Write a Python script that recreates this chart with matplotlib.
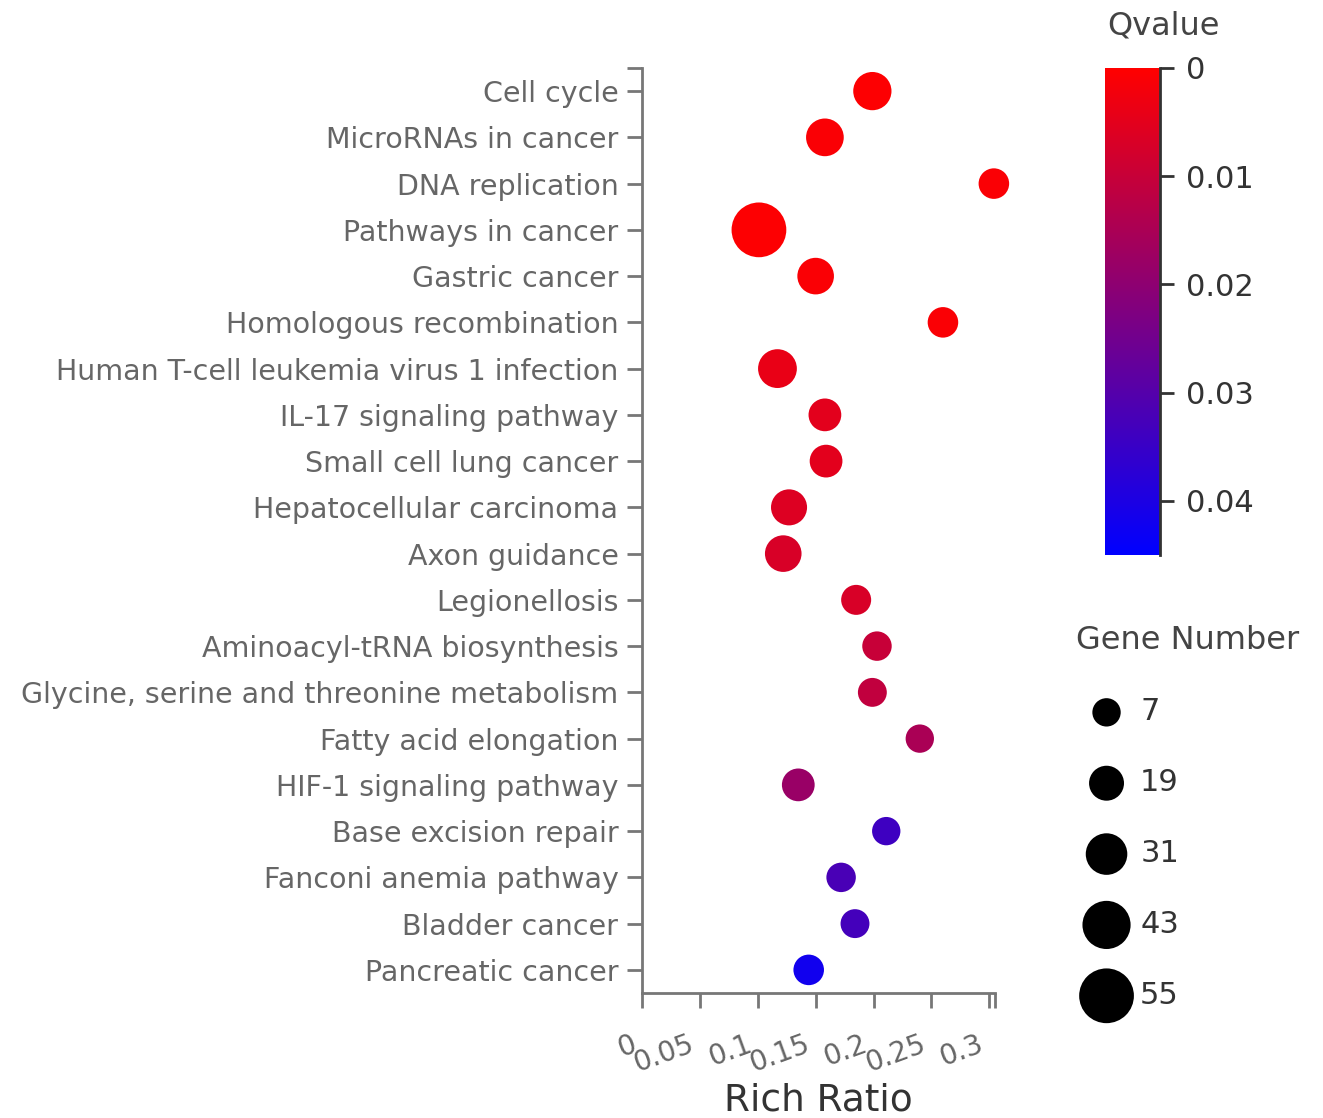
import matplotlib
matplotlib.use('Agg')
import matplotlib.pyplot as plt
from matplotlib.colors import LinearSegmentedColormap, Normalize
from matplotlib.transforms import ScaledTranslation
import numpy as np

plt.rcParams['font.family'] = ['DejaVu Sans']

pathways = ['Cell cycle', 'MicroRNAs in cancer', 'DNA replication', 'Pathways in cancer',
            'Gastric cancer', 'Homologous recombination',
            'Human T-cell leukemia virus 1 infection', 'IL-17 signaling pathway',
            'Small cell lung cancer', 'Hepatocellular carcinoma', 'Axon guidance',
            'Legionellosis', 'Aminoacyl-tRNA biosynthesis',
            'Glycine, serine and threonine metabolism', 'Fatty acid elongation',
            'HIF-1 signaling pathway', 'Base excision repair', 'Fanconi anemia pathway',
            'Bladder cancer', 'Pancreatic cancer']
rich_ratio = [0.199, 0.158, 0.304, 0.101, 0.150, 0.260, 0.117, 0.158, 0.159, 0.127,
              0.122, 0.185, 0.203, 0.199, 0.240, 0.135, 0.211, 0.172, 0.184, 0.144]
gene_number = [25, 24, 11, 55, 22, 11, 26, 15, 15, 21, 22, 10, 9, 8, 7, 15, 7, 9, 8, 11]
qvalue = [0.0005, 0.001, 0.001, 0.0005, 0.001, 0.001, 0.004, 0.005, 0.005, 0.006,
          0.007, 0.007, 0.010, 0.011, 0.015, 0.018, 0.034, 0.032, 0.033, 0.042]

x_ticks = [0, 0.05, 0.1, 0.15, 0.2, 0.25, 0.3]
x_ticklabels = ['0', '0.05', '0.1', '0.15', '0.2', '0.25', '0.3']
q_ticks = [0, 0.01, 0.02, 0.03, 0.04]
q_ticklabels = ['0', '0.01', '0.02', '0.03', '0.04']
legend_counts = [7, 19, 31, 43, 55]

grey = '#666666'


def marker_area(n):
    # diameter in px grows linearly with gene count, convert to pt^2
    d = 24.5 + 0.55 * np.asarray(n, dtype=float)
    return (d * 0.72) ** 2


cmap = LinearSegmentedColormap.from_list('rb', ['#ff0000', '#0000ff'])
norm = Normalize(vmin=0, vmax=0.045)

fig = plt.figure(figsize=(13.23, 11.18), dpi=100)
ax = fig.add_axes([0.4853, 0.1118, 0.2668, 0.8274])

ypos = np.arange(len(pathways))
ax.scatter(rich_ratio, ypos, s=marker_area(gene_number), c=qvalue, cmap=cmap, norm=norm,
           edgecolors='none', zorder=3, clip_on=False)

ax.set_xlim(0, 0.305)
ax.set_ylim(len(pathways) - 0.5, -0.5)
ax.set_yticks(ypos)
ax.set_yticklabels(pathways, fontsize=20.5, color=grey)
ax.set_yticks([-0.5], minor=True)
ax.set_xticks(x_ticks)
ax.set_xticklabels(x_ticklabels, fontsize=20, color=grey, rotation=20,
                   ha='right', va='top', rotation_mode='anchor')
ax.set_xticks([0.305], minor=True)
ax.tick_params(axis='both', which='both', color='#777777', width=2, length=11)
ax.tick_params(axis='x', pad=16)
ax.tick_params(axis='y', pad=6)
shift = ScaledTranslation(-0.12, 0, fig.dpi_scale_trans)
for lbl in ax.get_xticklabels():
    lbl.set_transform(lbl.get_transform() + shift)
for side in ['top', 'right']:
    ax.spines[side].set_visible(False)
for side in ['left', 'bottom']:
    ax.spines[side].set_color('#777777')
    ax.spines[side].set_linewidth(2)
ax.set_xlabel('Rich Ratio', fontsize=27, color='#333333')
ax.xaxis.set_label_coords(0.5, -0.097)

# colour bar
cax = fig.add_axes([0.8352, 0.5036, 0.0416, 0.4356])
sm = plt.cm.ScalarMappable(norm=norm, cmap=cmap)
cb = fig.colorbar(sm, cax=cax)
cb.outline.set_visible(False)
cax.invert_yaxis()
cb.set_ticks(q_ticks)
cb.set_ticklabels(q_ticklabels)
cax.tick_params(labelsize=22, labelcolor='#333333', color='#333333', width=2, length=10,
                pad=9)
cax.plot([1, 1], [0, 1], transform=cax.transAxes, color='#333333', lw=2, clip_on=False)
fig.text(0.8795, 0.977, 'Qvalue', fontsize=23, color='#444444', ha='center', va='center')

# size legend
handles = [ax.scatter([], [], s=marker_area(n), color='black', edgecolors='none')
           for n in legend_counts]
leg = fig.legend(handles, [str(n) for n in legend_counts], title='Gene Number',
                 loc='upper left', bbox_to_anchor=(0.7925, 0.466), frameon=False,
                 fontsize=22, title_fontsize=23, labelspacing=1.37, handletextpad=0.1,
                 alignment='left', scatterpoints=1)
for t in leg.get_texts():
    t.set_color('#333333')
leg.get_title().set_color('#444444')

fig.savefig('out.png', dpi=100)
